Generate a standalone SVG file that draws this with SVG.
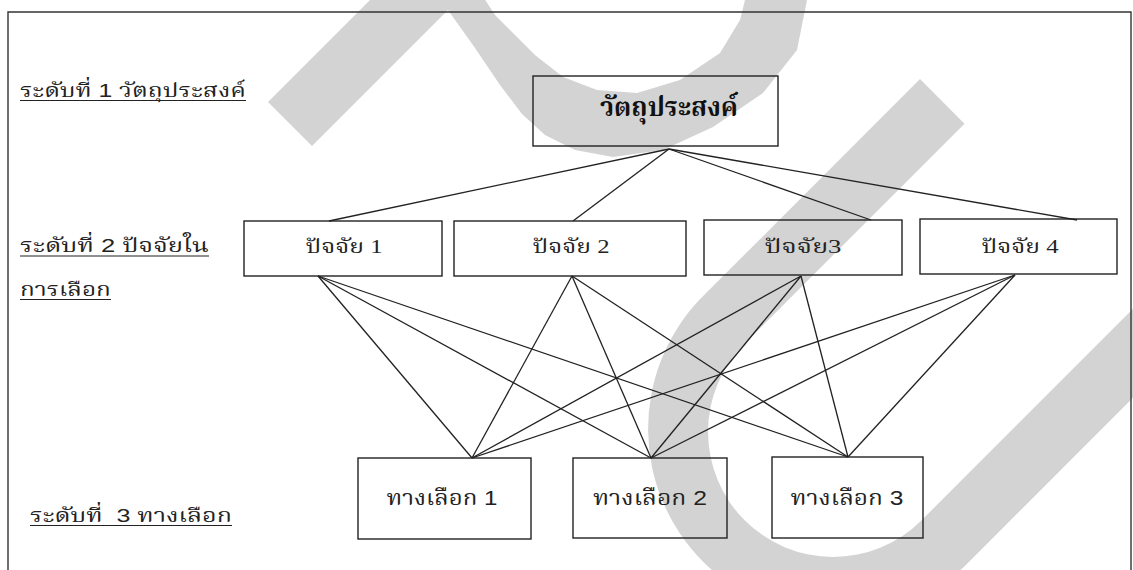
<svg xmlns="http://www.w3.org/2000/svg" width="1133" height="570" viewBox="0 0 1133 570">
<style>
.wm{fill:#d3d3d3;stroke:none}
.box{fill:none;stroke:#222;stroke-width:1.4}
.frame{fill:none;stroke:#333;stroke-width:1.4}
.lbl{font-family:'Liberation Sans','Noto Serif Thai','Noto Sans Thai','DejaVu Sans',sans-serif;font-size:19px;fill:#222}
.t2{font-family:'Liberation Serif','Noto Serif Thai','Noto Sans Thai','DejaVu Sans',serif;font-size:19px;fill:#222;text-anchor:middle}
.t3{font-family:'Liberation Sans','Noto Serif Thai','Noto Sans Thai','DejaVu Sans',sans-serif;font-size:21px;fill:#222;text-anchor:middle}
.t1{font-family:'Liberation Sans','Noto Serif Thai','Noto Sans Thai','DejaVu Sans',sans-serif;font-size:26px;font-weight:bold;fill:#111;text-anchor:middle}
.ul{stroke:#222;stroke-width:1.2}
.con line{stroke:#222;stroke-width:1.3}
</style>
<rect width="1133" height="570" fill="#fff"/>
<g id="watermark">
<polygon class="wm" points="268,102 312,146 448,10 475,48 500,85 522,114 545,135 575,150 613,157 663,150 713,127 763,93 797,50 807,0 808,-5 745,-5 745,0 740,20 720,53 680,80 637,93 597,90 563,77 535,55 513,33 495,15 482,-5 375,-5"/>
<path class="wm" d="M920,79 L700.1,299.1 A188,188 0 0 0 965.9,564.9 L1365.9,164.9 L1321.4,120.4 L921.4,520.4 A125,125 0 0 1 744.6,343.6 L964.5,123.7 Z"/>
</g>
<path class="frame" d="M8,575 V12 H1131 V575"/>
<g id="labels">
<text class="lbl" x="20" y="97" textLength="226" lengthAdjust="spacingAndGlyphs">ระดับที่ 1 วัตถุประสงค์</text>
<line class="ul" x1="20" y1="100.5" x2="246" y2="100.5"/>
<text class="lbl" x="20" y="252" textLength="189" lengthAdjust="spacingAndGlyphs">ระดับที่ 2 ปัจจัยใน</text>
<line class="ul" x1="20" y1="256" x2="209" y2="256"/>
<text class="lbl" x="20" y="296" textLength="91" lengthAdjust="spacingAndGlyphs">การเลือก</text>
<line class="ul" x1="20" y1="299.5" x2="111" y2="299.5"/>
<text class="lbl" x="30" y="522" font-size="20" textLength="202" lengthAdjust="spacingAndGlyphs" style="white-space:pre">ระดับที่  3 ทางเลือก</text>
<line class="ul" x1="30" y1="525.5" x2="232" y2="525.5"/>
</g>
<g id="connectors" class="con">
<line x1="669" y1="149" x2="329" y2="221"/>
<line x1="669" y1="149" x2="573" y2="221"/>
<line x1="669" y1="149" x2="871" y2="220"/>
<line x1="669" y1="149" x2="1077" y2="220"/>
<line x1="318" y1="276" x2="472" y2="458"/>
<line x1="318" y1="276" x2="651" y2="458"/>
<line x1="318" y1="276" x2="848" y2="457"/>
<line x1="572" y1="276" x2="472" y2="458"/>
<line x1="572" y1="276" x2="651" y2="458"/>
<line x1="572" y1="276" x2="848" y2="457"/>
<line x1="801" y1="276" x2="472" y2="458"/>
<line x1="801" y1="276" x2="651" y2="458"/>
<line x1="801" y1="276" x2="848" y2="457"/>
<line x1="1015" y1="275" x2="472" y2="458"/>
<line x1="1015" y1="275" x2="651" y2="458"/>
<line x1="1015" y1="275" x2="848" y2="457"/>
</g>
<g id="goal">
<rect class="box" x="533" y="76" width="245" height="70"/>
<text class="t1" x="669" y="116" textLength="138" lengthAdjust="spacingAndGlyphs">วัตถุประสงค์</text>
</g>
<g id="factor1">
<rect class="box" x="244" y="221" width="198" height="55"/>
<text class="t2" x="344" y="253" textLength="77" lengthAdjust="spacingAndGlyphs">ปัจจัย 1</text>
</g>
<g id="factor2">
<rect class="box" x="454" y="221" width="232" height="55"/>
<text class="t2" x="571" y="253" textLength="77" lengthAdjust="spacingAndGlyphs">ปัจจัย 2</text>
</g>
<g id="factor3">
<rect class="box" x="704" y="220" width="198" height="55"/>
<text class="t2" x="803" y="253" textLength="77" lengthAdjust="spacingAndGlyphs">ปัจจัย3</text>
</g>
<g id="factor4">
<rect class="box" x="920" y="219" width="197" height="55"/>
<text class="t2" x="1020" y="253" textLength="77" lengthAdjust="spacingAndGlyphs">ปัจจัย 4</text>
</g>
<g id="alt1">
<rect class="box" x="358" y="458" width="173" height="81"/>
<text class="t3" x="442" y="505" textLength="111" lengthAdjust="spacingAndGlyphs">ทางเลือก 1</text>
</g>
<g id="alt2">
<rect class="box" x="573" y="458" width="154" height="80"/>
<text class="t3" x="650" y="505" textLength="114" lengthAdjust="spacingAndGlyphs">ทางเลือก 2</text>
</g>
<g id="alt3">
<rect class="box" x="772" y="457" width="151" height="81"/>
<text class="t3" x="847" y="505" textLength="113" lengthAdjust="spacingAndGlyphs">ทางเลือก 3</text>
</g>
</svg>
